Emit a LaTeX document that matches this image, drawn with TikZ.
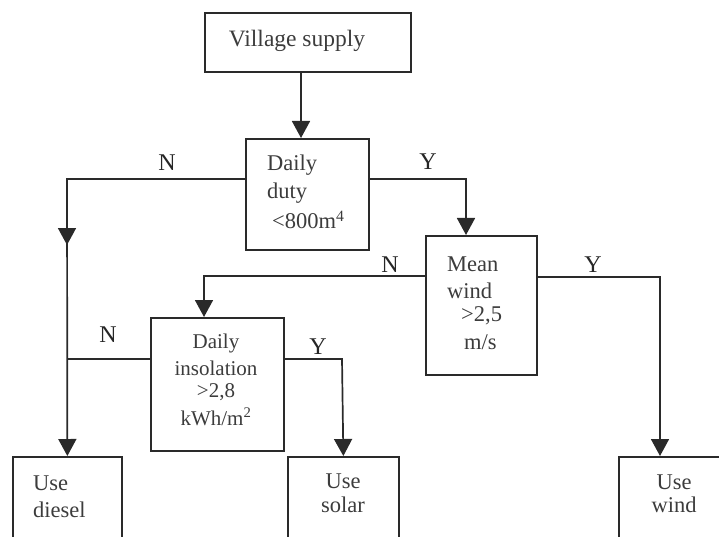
\documentclass[tikz,border=0pt]{standalone}
\usepackage{fontspec}
\setmainfont{Liberation Serif}
\usetikzlibrary{arrows.meta}
\definecolor{ln}{HTML}{2A2A2A}
\definecolor{tx}{HTML}{3C3C3C}
\tikzset{
  box/.style={draw=ln, line width=1.7pt, fill=none, inner sep=0pt, anchor=north west},
  conn/.style={draw=ln, line width=1.7pt},
  arr/.style={conn, -{Triangle[length=17pt,width=18pt]}},
  txt/.style={text=tx, font=\fontsize{21}{25}\selectfont, inner sep=0pt},
  big/.style={font=\fontsize{23.5}{28}\selectfont},
  mid/.style={font=\fontsize{22.5}{27}\selectfont},
  lbl/.style={text=black!85, font=\fontsize{24}{28}\selectfont, inner sep=0pt},
}
\begin{document}
\begin{tikzpicture}[x=1pt,y=-1pt]
\useasboundingbox (0,0) rectangle (719,537);
\clip (0,0) rectangle (719,537);
% boxes
\node[box, minimum width=206pt, minimum height=59pt] (village) at (204,12) {};
\node[box, minimum width=123pt, minimum height=111pt] (duty) at (245,138) {};
\node[box, minimum width=111pt, minimum height=139pt] (wind) at (425,235) {};
\node[box, minimum width=133pt, minimum height=133pt] (insol) at (150,317) {};
\node[box, minimum width=109pt, minimum height=120pt] (diesel) at (12,456) {};
\node[box, minimum width=111pt, minimum height=120pt] (solar) at (287,456) {};
\node[box, minimum width=140pt, minimum height=120pt] (windres) at (618,456) {};
% texts
\node[txt, big] (tvillage) at (297,41) {Village supply};
\node[txt, mid, anchor=west] (tduty1) at (267,165) {Daily};
\node[txt, mid, anchor=west] (tduty2) at (267,193) {duty};
\node[txt, mid, anchor=west] (tduty3) at (272,220) {<800m\textsuperscript{4}};
\node[txt, mid, anchor=west] (twind1) at (447,264) {Mean};
\node[txt, mid, anchor=west] (twind2) at (447,291) {wind};
\node[txt, mid, anchor=west] (twind3) at (461,316) {>2,5};
\node[txt, mid, anchor=west] (twind4) at (464,342) {m/s};
\node[txt] (tins1) at (216,343) {Daily};
\node[txt] (tins2) at (216,368) {insolation};
\node[txt] (tins3) at (216,392) {>2,8};
\node[txt] (tins4) at (216,417) {kWh/m\textsuperscript{2}};
\node[txt, mid, anchor=west] (tdies1) at (33,483) {Use};
\node[txt, mid, anchor=west] (tdies2) at (33,510) {diesel};
\node[txt, mid] (tsol1) at (343,481) {Use};
\node[txt, mid] (tsol2) at (343,505) {solar};
\node[txt, mid] (twr1) at (674,482) {Use};
\node[txt, mid] (twr2) at (674,505) {wind};
% labels
\node[lbl] (n1) at (167,163) {N};
\node[lbl] (y1) at (428,162) {Y};
\node[lbl] (n2) at (390,265) {N};
\node[lbl] (y2) at (593,265) {Y};
\node[lbl] (n3) at (108,335) {N};
\node[lbl] (y3) at (318,347) {Y};
% coordinates
\coordinate (dutyL) at (67,179);
\coordinate (dmid) at (67,245);
\coordinate (dutyR) at (466,179);
\coordinate (windL) at (204,276);
\coordinate (windR) at (660,277);
\coordinate (insR) at (342,359);
% connectors
\draw[arr] (village.south -| 301,0) -- (duty.north -| 301,0);
\draw[arr] (dutyL) -- (diesel.north);
\draw[arr] (duty.west |- dutyL) -- (dutyL) -- (dmid);
\draw[arr] (duty.east |- dutyR) -- (dutyR) -- (dutyR |- wind.north);
\draw[arr] (wind.west |- windL) -- (windL) -- (windL |- insol.north);
\draw[arr] (wind.east |- windR) -- (windR) -- (windR |- windres.north);
\draw[conn] (insol.west |- 0,359) -- (dutyL |- 0,359);
\draw[arr] (insol.east |- insR) -- (insR) -- (solar.north);
\end{tikzpicture}
\end{document}
